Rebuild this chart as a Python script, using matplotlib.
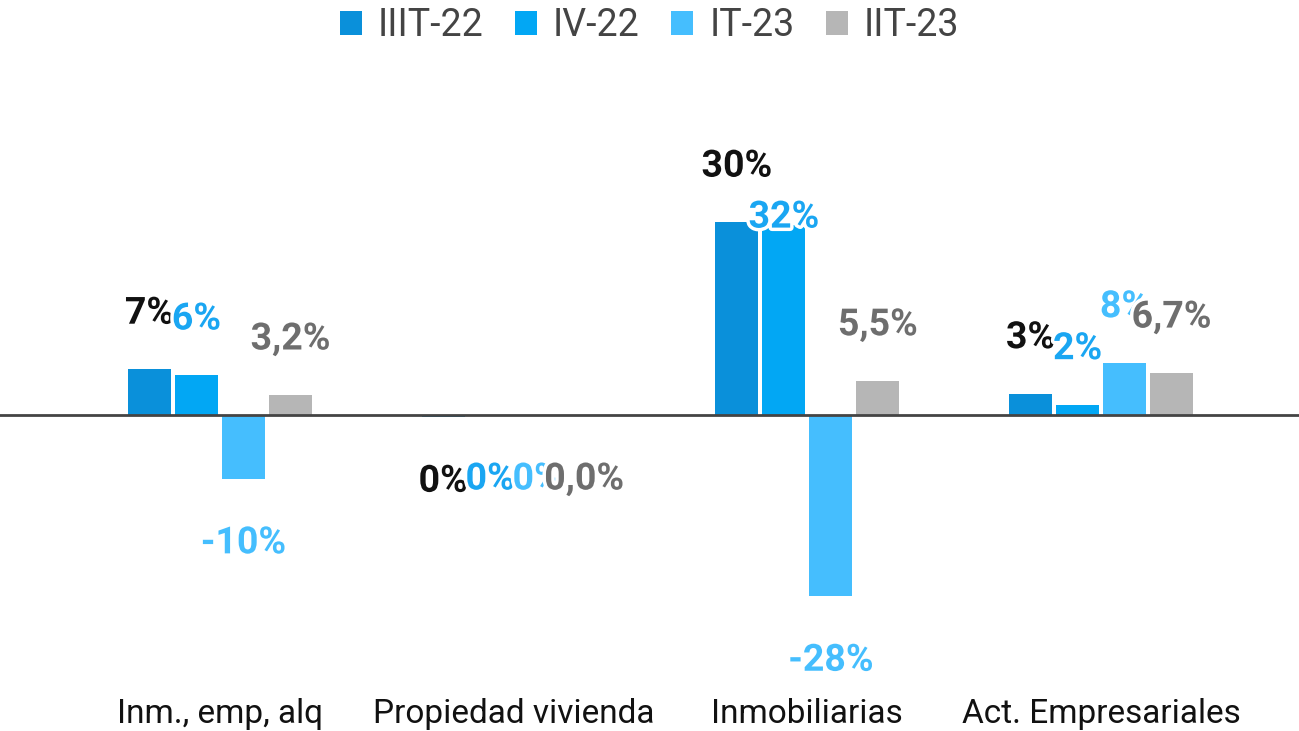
import matplotlib
matplotlib.use("Agg")
import matplotlib.pyplot as plt
import matplotlib.patheffects as pe
from matplotlib.patches import Patch
from matplotlib.transforms import blended_transform_factory
import numpy as np

categories = ["Inm., emp, alq", "Propiedad vivienda", "Inmobiliarias", "Act. Empresariales"]
series = ["IIIT-22", "IV-22", "IT-23", "IIT-23"]
values_iiit22 = [7.1, -0.35, 29.9, 3.3]
values_iv22 = [6.2, 0.0, 29.4, 1.6]
values_it23 = [-9.9, 0.0, -28.1, 8.1]
values_iit23 = [3.1, 0.0, 5.3, 6.5]
labels_iiit22 = ["7%", "0%", "30%", "3%"]
labels_iv22 = ["6%", "0%", "32%", "2%"]
labels_it23 = ["-10%", "0%", "-28%", "8%"]
labels_iit23 = ["3,2%", "0,0%", "5,5%", "6,7%"]

all_values = [values_iiit22, values_iv22, values_it23, values_iit23]
all_labels = [labels_iiit22, labels_iv22, labels_it23, labels_iit23]
bar_colors = ["#0A90DA", "#02A7F4", "#45BEFE", "#B6B6B6"]
label_colors = ["#111111", "#1AA6F2", "#45BEFE", "#6E6E6E"]

plt.rcParams['font.family'] = ['Roboto', 'DejaVu Sans']

W, H = 1299, 731
fig = plt.figure(figsize=(W / 100, H / 100), dpi=100)
top_px, bot_px = 60, 690
ax = fig.add_axes([0, 1 - bot_px / H, 1, (bot_px - top_px) / H])
zero_px = 415
scale = 6.45
ax.set_ylim(-(bot_px - zero_px) / scale, (zero_px - top_px) / scale)
ax.set_xlim(-0.749, 3.674)
ax.axis("off")

x = np.arange(len(categories))
width = 0.1464
step = 0.16
offset_up = 56 / scale
offset_down = 64 / scale
nudge = {(2, 1): -7.4}
for i, (vals, labs) in enumerate(zip(all_values, all_labels)):
    xs = x + (i - 1.5) * step
    ax.bar(xs, vals, width=width, color=bar_colors[i], zorder=2)
    for j, (xv, v, lab) in enumerate(zip(xs, vals, labs)):
        y = v + offset_up if v > 0 else v - offset_down
        y += nudge.get((j, i), 0)
        ax.text(xv, y, lab, ha="center", va="center", fontsize=27, fontweight="bold",
                color=label_colors[i], zorder=5 + i,
                path_effects=[pe.withStroke(linewidth=5, foreground="white")])

ax.axhline(0, color="#444444", lw=2, zorder=3)

tr = blended_transform_factory(ax.transData, fig.transFigure)
for xi, c in zip(x, categories):
    ax.text(xi, 1 - 714 / H, c, transform=tr, ha="center", va="center",
            fontsize=24, color="#111111")

handles = [Patch(facecolor=c, edgecolor="none") for c in bar_colors]
fig.legend(handles, series, loc="center", bbox_to_anchor=(0.5, 1 - 26 / H), ncol=4,
           frameon=False, fontsize=27, labelcolor="#444444", handlelength=0.59,
           handleheight=0.59, handletextpad=0.43, columnspacing=0.83)

fig.savefig("out.png", dpi=100)
